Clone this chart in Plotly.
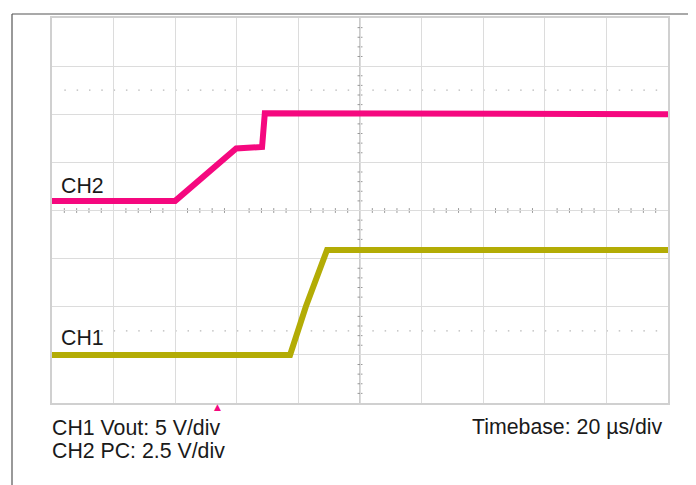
import plotly.graph_objects as go

# --- data read from the scope capture (time in µs, voltage in V) ---
ch1_t = [-100.0, -22.7, -17.6, -10.7, 100.0]
ch1_v = [0.0, 0.0, 5.0, 10.9, 10.9]
ch2_t = [-100.0, -60.0, -40.2, -31.8, -30.9, -22.0, -12.0, -3.0, 100.0]
ch2_v = [0.0, 0.0, 2.72, 2.8, 4.55, 4.55, 4.48, 4.52, 4.5]

ch1_scale = 5.0     # V/div
ch2_scale = 2.5     # V/div
ch1_offset = -3.0   # div (ground position)
ch2_offset = 0.2    # div
trigger_t = -46.4   # µs

x_ticks = [-100, -80, -60, -40, -20, 0, 20, 40, 60, 80, 100]
y_ticks = [-4, -3, -2, -1, 0, 1, 2, 3, 4]

PINK = "#F5087F"
OLIVE = "#B3AC05"
FONT = "Liberation Sans, Arial, sans-serif"

ch1_y = [v / ch1_scale + ch1_offset for v in ch1_v]
ch2_y = [v / ch2_scale + ch2_offset for v in ch2_v]

fig = go.Figure()
fig.add_trace(go.Scatter(x=ch2_t, y=ch2_y, mode="lines",
                         line=dict(color=PINK, width=6), hoverinfo="skip"))
fig.add_trace(go.Scatter(x=ch1_t, y=ch1_y, mode="lines",
                         line=dict(color=OLIVE, width=6), hoverinfo="skip"))

# page offset (browser body margin) and plot box in screen pixels
OFF = 8
L, R, T, B = 52, 668, 16, 403
W, H = 696 - OFF, 485 - OFF

shapes = []
# center axes
shapes.append(dict(type="line", xref="x", yref="y", x0=-100, x1=100, y0=0, y1=0,
                   line=dict(color="#aaaaaa", width=1.2), layer="below"))
shapes.append(dict(type="line", xref="x", yref="y", x0=0, x1=0, y0=-4, y1=4,
                   line=dict(color="#aaaaaa", width=1.2), layer="below"))
# minor ticks on the center axes (0.2 div)
for i in range(-50, 51):
    if i % 5 == 0:
        continue
    xt = i * 4.0
    shapes.append(dict(type="line", xref="x", yref="y", x0=xt, x1=xt, y0=-0.05, y1=0.05,
                       line=dict(color="#999999", width=1), layer="below"))
for i in range(-40, 41):
    if i % 5 == 0:
        continue
    yt = i * 0.2
    shapes.append(dict(type="line", xref="x", yref="y", x0=-0.8, x1=0.8, y0=yt, y1=yt,
                       line=dict(color="#999999", width=1), layer="below"))
# dotted marker lines
for yd in (2.5, -2.5):
    shapes.append(dict(type="line", xref="x", yref="y", x0=-96, x1=100, y0=yd, y1=yd,
                       line=dict(color="#b8b8b8", width=1.2, dash="1.5px,10.82px"),
                       layer="below"))


def px_x(p):
    return (p - L) / (R - L)


def px_y(p):
    return (B - p) / (B - T)


# outer frame of the screenshot
shapes.append(dict(type="line", xref="paper", yref="paper",
                   x0=px_x(12), x1=px_x(710), y0=px_y(12), y1=px_y(12),
                   line=dict(color="#555555", width=1.2)))
shapes.append(dict(type="line", xref="paper", yref="paper",
                   x0=px_x(12), x1=px_x(12), y0=px_y(12), y1=px_y(500),
                   line=dict(color="#555555", width=1.2)))

annotations = [
    dict(text="CH2", x=px_x(59), y=px_y(185), xanchor="left", yanchor="middle"),
    dict(text="CH1", x=px_x(59), y=px_y(338), xanchor="left", yanchor="middle"),
    dict(text="CH1 Vout: 5 V/div", x=px_x(50), y=px_y(428), xanchor="left", yanchor="middle"),
    dict(text="CH2 PC: 2.5 V/div", x=px_x(50), y=px_y(451), xanchor="left", yanchor="middle"),
    dict(text="Timebase: 20 µs/div", x=px_x(665), y=px_y(427), xanchor="right", yanchor="middle"),
]
for a in annotations:
    a.update(xref="paper", yref="paper", showarrow=False,
             font=dict(family=FONT, size=21.3, color="#1a1a1a"))

# trigger position marker below the grid
annotations.append(dict(text="▲", x=trigger_t, xref="x", y=px_y(407), yref="paper",
                        xanchor="center", yanchor="middle", showarrow=False,
                        font=dict(family="DejaVu Sans", size=9, color=PINK)))

fig.update_layout(
    width=W, height=H,
    margin=dict(l=L - OFF, r=W - (R - OFF), t=T - OFF, b=H - (B - OFF)),
    paper_bgcolor="white", plot_bgcolor="white",
    showlegend=False,
    shapes=shapes, annotations=annotations,
    xaxis=dict(range=[-100, 100], tickvals=x_ticks, showticklabels=False,
               showgrid=True, gridcolor="#dcdcdc", gridwidth=1, zeroline=False,
               showline=True, linecolor="#d0d0d0", linewidth=1.5, mirror=True, ticks=""),
    yaxis=dict(range=[-4, 4], tickvals=y_ticks, showticklabels=False,
               showgrid=True, gridcolor="#dcdcdc", gridwidth=1, zeroline=False,
               showline=True, linecolor="#d0d0d0", linewidth=1.5, mirror=True, ticks=""),
)

fig.write_html("out.html")
